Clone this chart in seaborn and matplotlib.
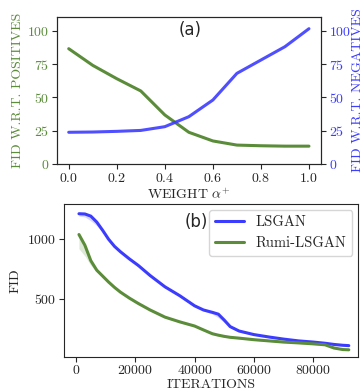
import numpy as np
import matplotlib
matplotlib.use('Agg')
import matplotlib.pyplot as plt
import seaborn as sns

sns.set_style('ticks')
plt.rcParams['font.family'] = ['cmr10', 'DejaVu Serif']
plt.rcParams['mathtext.fontset'] = 'cm'
plt.rcParams['axes.formatter.use_mathtext'] = True
plt.rcParams['axes.unicode_minus'] = False

# (a) FID vs weight alpha+
weights = [0.0, 0.1, 0.2, 0.3, 0.4, 0.5, 0.6, 0.7, 0.8, 0.9, 1.0]
fid_pos = [86.5, 74.0, 64.0, 54.8, 36.8, 23.8, 17.3, 14.2, 13.7, 13.4, 13.4]
fid_neg = [23.8, 24.0, 24.5, 25.2, 28.0, 35.5, 48.0, 68.0, 78.0, 88.0, 101.5]

# (b) FID vs iterations (mean curves + band offsets)
iters = [1000, 3000, 5000, 7000, 9000, 11000, 13000, 15000, 18000, 21000,
         25000, 30000, 35000, 40000, 43000, 46000, 48000, 50000, 52000, 55000,
         60000, 65000, 70000, 75000, 80000, 84000, 87000, 90000, 92000]
lsgan = [1215, 1213, 1195, 1145, 1075, 1000, 940, 895, 835, 780,
         695, 600, 525, 440, 405, 385, 370, 320, 265, 228,
         198, 178, 160, 145, 135, 125, 115, 108, 105]
lsgan_lo = [20, 25, 40, 30, 15, 8, 8, 8, 8, 8,
            8, 8, 8, 8, 8, 15, 30, 20, 10, 8,
            6, 6, 6, 6, 6, 6, 6, 6, 6]
lsgan_hi = [15, 12, 8, 6, 6, 6, 6, 6, 6, 6,
            6, 6, 6, 6, 6, 8, 8, 8, 6, 6,
            5, 5, 5, 5, 5, 5, 5, 5, 5]
rumi = [1040, 950, 820, 740, 690, 640, 595, 555, 505, 460,
        405, 345, 305, 270, 237, 205, 193, 183, 175, 168,
        155, 145, 135, 128, 120, 112, 85, 72, 70]
rumi_lo = [120, 90, 40, 15, 8, 6, 6, 6, 6, 6,
           6, 6, 6, 6, 6, 6, 6, 6, 6, 6,
           5, 5, 5, 5, 5, 5, 8, 5, 4]
rumi_hi = [5, 8, 8, 6, 6, 6, 6, 6, 6, 6,
           6, 6, 6, 6, 6, 6, 6, 6, 6, 6,
           5, 5, 5, 5, 5, 5, 5, 5, 4]

green = '#5b8c3a'
blue = '#3c3cff'

fig = plt.figure(figsize=(3.64, 3.92), dpi=100)

# ---- panel (a)
ax1 = fig.add_axes([0.1558, 0.5816, 0.726, 0.3758])
sns.lineplot(x=weights, y=fid_pos, ax=ax1, color=green, lw=2.2)
ax2 = ax1.twinx()
sns.lineplot(x=weights, y=fid_neg, ax=ax2, color=blue, lw=2.2, alpha=0.9)
for ax in (ax1, ax2):
    ax.set_ylim(0, 110.5)
    ax.set_yticks([0, 25, 50, 75, 100])
ax1.set_xticks([0.0, 0.2, 0.4, 0.6, 0.8, 1.0])
ax1.set_xlabel(r'WEIGHT $\alpha^{+}$', fontsize=10, labelpad=2)
ax1.set_ylabel('FID W.R.T. POSITIVES', color=green, fontsize=10, labelpad=2)
ax2.set_ylabel('FID W.R.T. NEGATIVES', color=blue, fontsize=10, labelpad=0.5)
ax1.tick_params(axis='y', labelcolor=green, labelsize=10, length=3.5, pad=2)
ax2.tick_params(axis='y', labelcolor=blue, labelsize=10, length=3.5, pad=2)
ax1.tick_params(axis='x', labelsize=10, length=3.5, pad=2)
ax1.text(0.504, 0.91, '(a)', transform=ax1.transAxes, ha='center', va='center',
         fontsize=12, family='DejaVu Sans')

# ---- panel (b)
ax3 = fig.add_axes([0.1766, 0.0901, 0.8077, 0.3895])
it = np.array(iters)
for y, lo, hi, c, name in [(lsgan, lsgan_lo, lsgan_hi, blue, 'LSGAN'),
                           (rumi, rumi_lo, rumi_hi, green, 'Rumi-LSGAN')]:
    y = np.array(y)
    ax3.fill_between(it, y - np.array(lo), y + np.array(hi), color=c, alpha=0.2, lw=0)
    sns.lineplot(x=iters, y=y, ax=ax3, color=c, lw=2.2, label=name)
ax3.set_xlim(-3950, 95200)
ax3.set_ylim(12, 1297)
ax3.set_yticks([500, 1000])
ax3.set_xticks([0, 20000, 40000, 60000, 80000])
ax3.set_xlabel('ITERATIONS', fontsize=10, labelpad=1)
ax3.set_ylabel('FID', fontsize=10, labelpad=4)
ax3.tick_params(labelsize=10, length=3.5, pad=2)
ax3.legend(loc='upper right', fontsize=10.5, frameon=True, borderaxespad=0.4)
ax3.text(0.448, 0.884, '(b)', transform=ax3.transAxes, ha='center', va='center',
         fontsize=12, family='DejaVu Sans')

fig.savefig('out.png', dpi=100)
